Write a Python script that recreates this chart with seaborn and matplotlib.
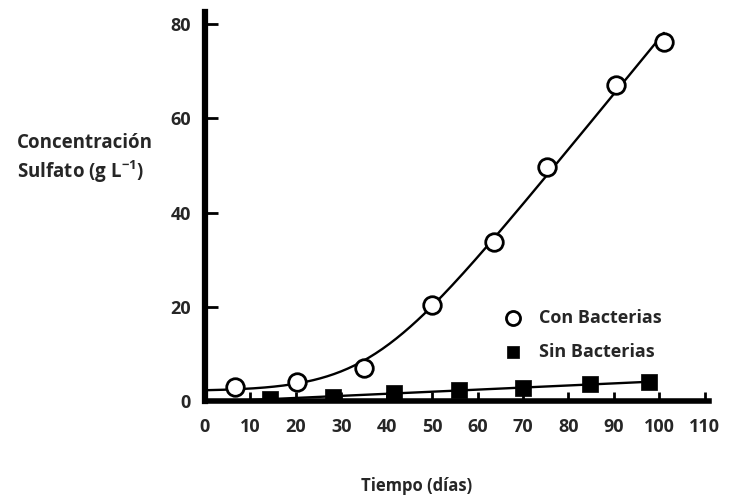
import numpy as np
import pandas as pd
import seaborn as sns
import matplotlib
matplotlib.use("Agg")
import matplotlib.pyplot as plt

# Sulfate concentration over time, with and without bacteria
dias_con = [6.6, 20.3, 35.0, 50.0, 63.6, 75.2, 90.4, 101.0]
sulfato_con = [3.0, 4.0, 7.0, 20.4, 33.8, 49.7, 67.1, 76.3]

dias_sin = [14.3, 28.2, 41.6, 56.0, 70.0, 84.7, 97.7]
sulfato_sin = [0.4, 0.9, 1.7, 2.3, 2.8, 3.6, 4.0]

xticks = [0, 10, 20, 30, 40, 50, 60, 70, 80, 90, 100, 110]
yticks = [0, 20, 40, 60, 80]

sns.set_theme(style="white")
plt.rcParams["font.family"] = ["Open Sans", "DejaVu Sans"]
plt.rcParams["font.weight"] = "bold"
plt.rcParams["mathtext.fontset"] = "custom"
plt.rcParams["mathtext.rm"] = "Open Sans:bold"
plt.rcParams["mathtext.it"] = "Open Sans:bold"


def softplus_fit(x, y):
    """Baseline + smooth onset of linear growth: a + b*d*log(1+exp((x-c)/d))."""
    x = np.asarray(x, float)
    y = np.asarray(y, float)
    best = None
    for c in np.linspace(15, 75, 121):
        for d in np.linspace(9, 30, 43):
            f = d * np.log1p(np.exp((x - c) / d))
            A = np.column_stack([np.ones_like(x), f])
            coef, *_ = np.linalg.lstsq(A, y, rcond=None)
            sse = np.sum((A @ coef - y) ** 2)
            if best is None or sse < best[0]:
                best = (sse, coef[0], coef[1], c, d)
    _, a, b, c, d = best
    return lambda t: a + b * d * np.log1p(np.exp((t - c) / d))


fig = plt.figure(figsize=(7.31, 5.0), dpi=100)
ax = fig.add_axes([0.2804, 0.198, 0.690, 0.777])

df_con = pd.DataFrame({"dias": dias_con, "sulfato": sulfato_con})
df_sin = pd.DataFrame({"dias": dias_sin, "sulfato": sulfato_sin})

# trend curves fitted to each series
curve_con = softplus_fit(dias_con, sulfato_con)
x_con = np.linspace(0, max(dias_con), 200)
fit_con = pd.DataFrame({"dias": x_con, "sulfato": curve_con(x_con)})

c_sin = np.polyfit(df_sin["dias"], df_sin["sulfato"], 1)
x_sin = np.linspace(0, max(dias_sin), 50)
fit_sin = pd.DataFrame({"dias": x_sin, "sulfato": np.polyval(c_sin, x_sin)})

sns.lineplot(data=fit_con, x="dias", y="sulfato", color="black", lw=1.7, ax=ax, zorder=2)
sns.lineplot(data=fit_sin, x="dias", y="sulfato", color="black", lw=1.7, ax=ax, zorder=2)

sns.scatterplot(data=df_con, x="dias", y="sulfato", marker="o", s=160,
                facecolor="white", edgecolor="black", linewidth=2.0,
                ax=ax, zorder=3, label="Con Bacterias")
sns.scatterplot(data=df_sin, x="dias", y="sulfato", marker="s", s=130,
                color="black", edgecolor="black", linewidth=0.5,
                ax=ax, zorder=3, label="Sin Bacterias")

ax.set_xlim(0, 111)
ax.set_ylim(0, 82.5)
ax.set_xticks(xticks)
ax.set_yticks(yticks)
ax.set_xlabel("")
ax.set_ylabel("")

for side in ["top", "right"]:
    ax.spines[side].set_visible(False)
ax.spines["left"].set_linewidth(4.5)
ax.spines["bottom"].set_linewidth(4.0)
for side in ["left", "bottom"]:
    ax.spines[side].set_color("black")
    ax.spines[side].set_zorder(5)

ax.tick_params(axis="y", direction="in", length=9.5, width=2.0, color="black",
               pad=10, labelsize=13, left=True)
ax.tick_params(axis="x", direction="in", length=6.5, width=2.0, color="black",
               pad=12, labelsize=13, bottom=True)

leg = ax.legend(loc="upper left", bbox_to_anchor=(0.56, 0.255), frameon=False,
                fontsize=13, handletextpad=0.45, labelspacing=0.85,
                borderaxespad=0, markerscale=0.8)

fig.text(17 / 731, 1 - 143 / 500, "Concentración", ha="left", va="center",
         fontsize=13.5)
fig.text(17 / 731, 1 - 172 / 500, "Sulfato (g L$^{-1}$)", ha="left", va="center",
         fontsize=13.5)
fig.text(417 / 731, 1 - 486 / 500, "Tiempo (días)", ha="center", va="center",
         fontsize=12)

fig.savefig("out.png", dpi=100)
